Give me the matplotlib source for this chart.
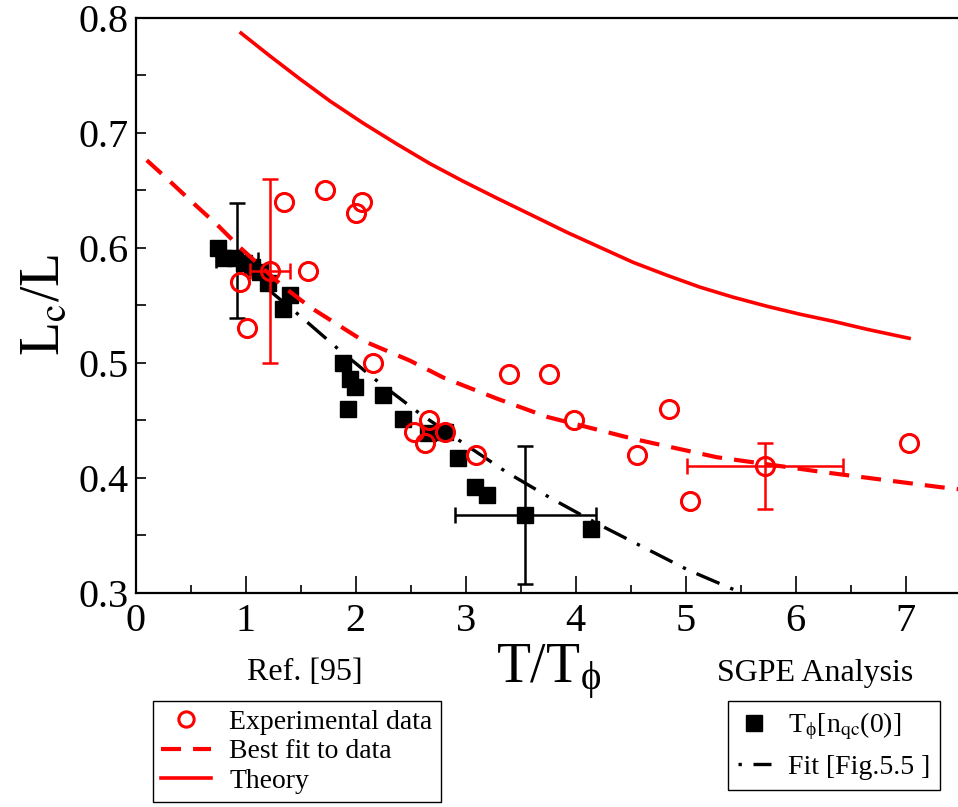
import matplotlib
matplotlib.use("Agg")
import matplotlib.pyplot as plt
from matplotlib.lines import Line2D
from matplotlib.ticker import MultipleLocator
import numpy as np

plt.rcParams['font.family'] = ['Liberation Serif', 'DejaVu Serif']
plt.rcParams['mathtext.fontset'] = 'stix'

# experimental data (Ref. [95])
exp_x = [0.95, 1.01, 1.22, 1.35, 1.57, 1.72, 2.00, 2.06, 2.16, 2.53, 2.63, 2.67,
         2.81, 3.09, 3.39, 3.76, 3.98, 4.56, 4.85, 5.04, 5.72, 7.03]
exp_y = [0.57, 0.53, 0.58, 0.64, 0.58, 0.65, 0.63, 0.64, 0.50, 0.44, 0.43, 0.45,
         0.44, 0.42, 0.49, 0.49, 0.45, 0.42, 0.46, 0.38, 0.41, 0.43]
# the two points with error bars
exp_err_x = [1.22, 5.72]
exp_err_y = [0.58, 0.41]
exp_err_dx = [0.18, 0.71]
exp_err_dy_lo = [0.08, 0.037]
exp_err_dy_hi = [0.08, 0.020]

# best fit to data (red dashed)
bestfit_x = [0.10, 0.25, 0.52, 0.75, 0.95, 1.33, 1.59, 2.07, 2.49, 2.80, 3.28,
             3.74, 4.52, 5.28, 6.25, 7.31, 7.50]
bestfit_y = [0.676, 0.663, 0.639, 0.619, 0.600, 0.567, 0.548, 0.519, 0.502, 0.487,
             0.469, 0.453, 0.434, 0.418, 0.405, 0.392, 0.390]

# theory (red solid)
theory_x = [0.957, 1.221, 1.494, 1.766, 2.066, 2.375, 2.675, 2.975, 3.284, 3.585,
            3.921, 4.221, 4.521, 4.830, 5.130, 5.430, 5.739, 6.039, 6.339, 6.648,
            7.030]
theory_y = [0.7865, 0.7665, 0.7465, 0.7274, 0.7083, 0.6900, 0.6730, 0.6578, 0.6430,
            0.6290, 0.6133, 0.6003, 0.5873, 0.5760, 0.5657, 0.5570, 0.5491, 0.5422,
            0.5361, 0.5291, 0.5213]

# SGPE analysis T_phi[n_qc(0)]
sgpe_x = [0.75, 0.80, 0.90, 0.98, 1.06, 1.13, 1.20, 1.40, 1.34, 1.88, 1.95, 1.99,
          1.93, 2.25, 2.43, 2.66, 2.81, 2.93, 3.08, 3.19, 3.54, 4.14]
sgpe_y = [0.600, 0.591, 0.591, 0.587, 0.583, 0.579, 0.569, 0.559, 0.547, 0.500,
          0.486, 0.479, 0.460, 0.472, 0.451, 0.439, 0.440, 0.417, 0.392, 0.385,
          0.368, 0.356]
sgpe_err_x = [0.92, 3.54]
sgpe_err_y = [0.589, 0.368]
sgpe_err_dx = [0.19, 0.64]
sgpe_err_dy = [0.05, 0.06]

# fit [Fig.5.5] (black dash-dot)
fit_x = [1.20, 1.49, 1.84, 2.21, 2.58, 2.98, 3.37, 3.78, 4.20, 4.61, 5.02, 5.46]
fit_y = [0.564, 0.541, 0.512, 0.483, 0.456, 0.430, 0.405, 0.382, 0.360, 0.340,
         0.320, 0.302]

RED = '#ff0000'
DASHDOT = [7.5, 3.5, 1, 3.5]

fig = plt.figure(figsize=(9.58, 8.07), dpi=100)
ax = fig.add_axes([0.1417, 0.2652, 0.8612, 0.7131])

ax.plot(sgpe_x, sgpe_y, 's', color='black', ms=11.5, zorder=3)
ax.errorbar(sgpe_err_x, sgpe_err_y, xerr=sgpe_err_dx, yerr=sgpe_err_dy, fmt='none',
            ecolor='black', elinewidth=1.8, capsize=6, capthick=1.8, zorder=3)
ax.plot(fit_x, fit_y, color='black', lw=2.4, dashes=DASHDOT, zorder=4)
ax.plot(bestfit_x, bestfit_y, color=RED, lw=3, dashes=[4.8, 2.9], zorder=4)
ax.plot(theory_x, theory_y, color=RED, lw=2.6, zorder=4)
ax.plot(exp_x, exp_y, 'o', mfc='none', mec=RED, mew=2.2, ms=13, zorder=5)
ax.errorbar(exp_err_x, exp_err_y, xerr=exp_err_dx,
            yerr=[exp_err_dy_lo, exp_err_dy_hi], fmt='none',
            ecolor=RED, elinewidth=1.8, capsize=6, capthick=1.8, zorder=5)

ax.set_xlim(0, 7.5)
ax.set_ylim(0.3, 0.8)
ax.xaxis.set_major_locator(MultipleLocator(1))
ax.xaxis.set_minor_locator(MultipleLocator(0.5))
ax.yaxis.set_major_locator(MultipleLocator(0.1))
ax.yaxis.set_minor_locator(MultipleLocator(0.05))
ax.tick_params(which='both', direction='in', top=False, right=False, width=1.2,
               labelsize=29)
ax.tick_params(axis='x', which='major', length=12, pad=7)
ax.tick_params(axis='x', which='minor', length=6)
ax.tick_params(axis='y', which='both', length=7, pad=5)
for s in ax.spines.values():
    s.set_linewidth(1.6)

ax.set_xlabel(r'T/T$_{\mathregular{ϕ}}$', fontsize=40, labelpad=2)
ax.set_ylabel(r'L$_{\mathrm{c}}$/L', fontsize=40, labelpad=6)

fig.text(305 / 958, 1 - 673 / 807, 'Ref. [95]', fontsize=23, ha='center', va='center')
fig.text(815 / 958, 1 - 673 / 807, 'SGPE Analysis', fontsize=23, ha='center', va='center')

left_handles = [
    Line2D([], [], ls='none', marker='o', mfc='none', mec=RED, mew=2.2, ms=11),
    Line2D([], [], color=RED, lw=3, dashes=[4.8, 2.9]),
    Line2D([], [], color=RED, lw=2.6),
]
left_labels = ['Experimental data', 'Best fit to data', 'Theory']
leg1 = fig.legend(left_handles, left_labels, loc='upper left',
                  bbox_to_anchor=(153 / 958, 1 - 701 / 807), fontsize=20,
                  frameon=True, fancybox=False, edgecolor='black', framealpha=1,
                  borderpad=0.3, labelspacing=0.15, handlelength=1.8,
                  handletextpad=0.65, borderaxespad=0)
leg1.get_frame().set_linewidth(1.0)

right_handles = [
    Line2D([], [], ls='none', marker='s', color='black', ms=11),
    Line2D([], [], color='black', lw=2.4, dashes=[1, 3.5, 7.5, 3.5]),
]
right_labels = [r'T$_{\mathregular{ϕ}}$[n$_{\mathrm{qc}}$(0)]', 'Fit [Fig.5.5 ]']
leg2 = fig.legend(right_handles, right_labels, loc='upper left',
                  bbox_to_anchor=(728 / 958, 1 - 701 / 807), fontsize=20,
                  frameon=True, fancybox=False, edgecolor='black', framealpha=1,
                  borderpad=0.35, labelspacing=0.45, handlelength=1.2,
                  handletextpad=0.6, borderaxespad=0)
leg2.get_frame().set_linewidth(1.0)

fig.savefig('out.png', dpi=100)
